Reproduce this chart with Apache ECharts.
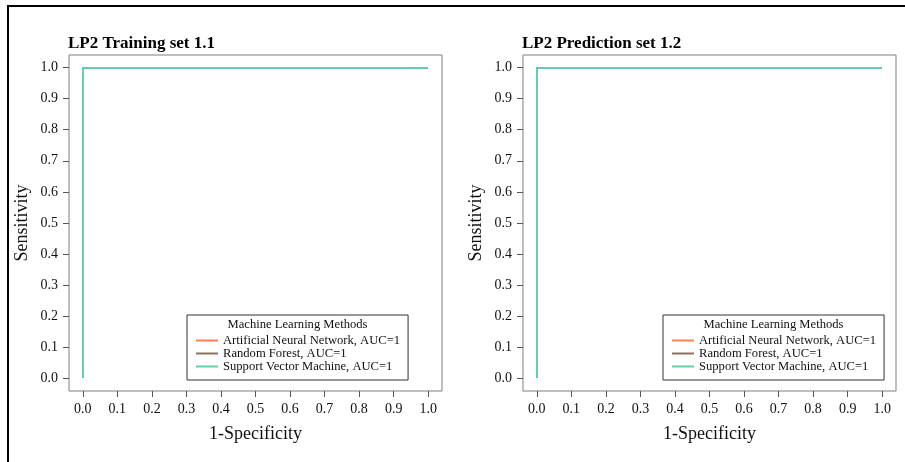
<!DOCTYPE html>
<html>
<head>
<meta charset="utf-8">
<script src="https://cdn.jsdelivr.net/npm/echarts@6/dist/echarts.min.js"></script>
<style>
  html, body { margin: 0; padding: 0; background: #ffffff; }
  #chart { width: 905px; height: 462px; }
</style>
</head>
<body>
<div id="chart"></div>
<script>
// ROC curves (1-Specificity, Sensitivity) for each method and data set
const methods = ['Artificial Neural Network', 'Random Forest', 'Support Vector Machine'];
const methodColors = ['#FF7F50', '#8B7355', '#66CDAA'];

const trainAnnFpr = [0, 0, 1];
const trainAnnTpr = [0, 1, 1];
const trainRfFpr = [0, 0, 1];
const trainRfTpr = [0, 1, 1];
const trainSvmFpr = [0, 0, 1];
const trainSvmTpr = [0, 1, 1];
const trainAuc = [1, 1, 1];

const predAnnFpr = [0, 0, 1];
const predAnnTpr = [0, 1, 1];
const predRfFpr = [0, 0, 1];
const predRfTpr = [0, 1, 1];
const predSvmFpr = [0, 0, 1];
const predSvmTpr = [0, 1, 1];
const predAuc = [1, 1, 1];

const axisTicks = [0, 0.1, 0.2, 0.3, 0.4, 0.5, 0.6, 0.7, 0.8, 0.9, 1.0];

const panelTitles = ['LP2 Training set 1.1', 'LP2 Prediction set 1.2'];
const legendHeader = 'Machine Learning Methods';
const xName = '1-Specificity';
const yName = 'Sensitivity';

const FONT = '"Liberation Serif", "Times New Roman", serif';
const pairs = (xs, ys) => xs.map((x, i) => [x, ys[i]]);

const panels = [
  { curves: [[trainAnnFpr, trainAnnTpr], [trainRfFpr, trainRfTpr], [trainSvmFpr, trainSvmTpr]], auc: trainAuc },
  { curves: [[predAnnFpr, predAnnTpr], [predRfFpr, predRfTpr], [predSvmFpr, predSvmTpr]], auc: predAuc }
];

// Framed axes extend 4% beyond 0..1 on each side
const rangeMin = -0.04, rangeMax = 1.04;

const boxLeft = [69, 523];
const boxTop = 55, boxW = 373, boxH = 336;
const padX = 14, padY = 13;
const legendLeft = [187, 663];
const legendW = 221;

const grid = [], xAxis = [], yAxis = [], series = [], legend = [], title = [], graphic = [];

const tickStyle = { show: true, length: 6, inside: false, customValues: axisTicks,
  lineStyle: { color: '#555', width: 1 } };
const labelStyle = { margin: 11, fontFamily: FONT, fontSize: 14, color: '#111',
  customValues: axisTicks, formatter: v => (+v).toFixed(1) };
const nameStyle = { fontFamily: FONT, fontSize: 18, color: '#111' };

panels.forEach((p, k) => {
  // framed box carrying the visible axes
  grid.push({ left: boxLeft[k], top: boxTop, width: boxW, height: boxH,
    show: true, borderColor: '#7f7f7f', borderWidth: 1, backgroundColor: 'transparent' });
  xAxis.push({
    gridIndex: 2 * k, type: 'value', min: rangeMin, max: rangeMax, position: 'bottom',
    splitLine: { show: false }, axisLine: { show: false, onZero: false },
    axisTick: tickStyle, axisLabel: labelStyle,
    name: xName, nameLocation: 'middle', nameGap: 34, nameTextStyle: nameStyle
  });
  yAxis.push({
    gridIndex: 2 * k, type: 'value', min: rangeMin, max: rangeMax, position: 'left',
    splitLine: { show: false }, axisLine: { show: false, onZero: false },
    axisTick: tickStyle, axisLabel: labelStyle,
    name: yName, nameLocation: 'middle', nameGap: 38, nameRotate: 90, nameTextStyle: nameStyle
  });

  // data area spanning exactly 0..1
  grid.push({ left: boxLeft[k] + padX, top: boxTop + padY, width: boxW - 2 * padX, height: boxH - 2 * padY });
  xAxis.push({ gridIndex: 2 * k + 1, type: 'value', min: 0, max: 1, show: false });
  yAxis.push({ gridIndex: 2 * k + 1, type: 'value', min: 0, max: 1, show: false });

  const names = [];
  p.curves.forEach((c, m) => {
    const nm = methods[m] + ', AUC=' + p.auc[m] + (k === 1 ? '\u200b' : '');
    names.push(nm);
    series.push({
      type: 'line', name: nm, xAxisIndex: 2 * k + 1, yAxisIndex: 2 * k + 1,
      data: pairs(c[0], c[1]), showSymbol: false, symbol: 'none', clip: false,
      lineStyle: { color: methodColors[m], width: 2 },
      itemStyle: { color: methodColors[m] },
      silent: true, animation: false
    });
  });

  legend.push({
    orient: 'vertical', left: legendLeft[k], top: 315,
    data: names, icon: 'rect', itemWidth: 22, itemHeight: 2, itemGap: 0,
    padding: [19, 8, 7, 9],
    borderColor: '#333', borderWidth: 1, backgroundColor: '#fff',
    selectedMode: false,
    textStyle: { fontFamily: FONT, fontSize: 12.6, color: '#111', lineHeight: 13 }
  });

  title.push({
    text: panelTitles[k], left: boxLeft[k] - 1, top: 35, padding: 0,
    textStyle: { fontFamily: FONT, fontSize: 17, fontWeight: 'bold', color: '#000' }
  });

  graphic.push({
    type: 'text', z: 100,
    x: legendLeft[k] + legendW / 2, y: 325,
    style: { text: legendHeader, fontFamily: FONT, fontSize: 12.6, fill: '#111',
      textAlign: 'center', textVerticalAlign: 'middle' }
  });
});

// frame lines along the top and left edges of the figure
graphic.push({
  type: 'polyline', z: 100,
  shape: { points: [[8, 462], [8, 6], [905, 6]] },
  style: { stroke: '#000', lineWidth: 2, fill: null }
});

const chart = echarts.init(document.getElementById('chart'), null, { renderer: 'canvas' });
chart.setOption({
  animation: false,
  backgroundColor: '#ffffff',
  title, grid, xAxis, yAxis, series, legend, graphic
});
</script>
</body>
</html>
